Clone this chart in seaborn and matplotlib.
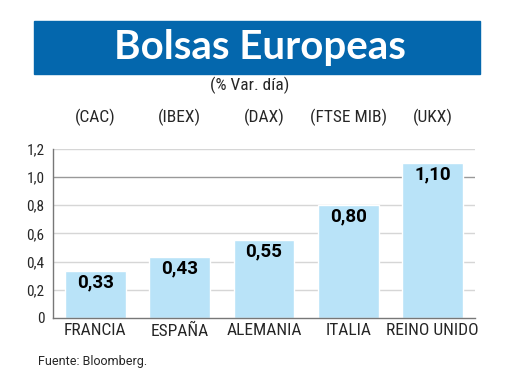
import matplotlib.pyplot as plt
import seaborn as sns
import pandas as pd
from matplotlib.patches import Rectangle

# Datos
paises = ['FRANCIA', 'ESPAÑA', 'ALEMANIA', 'ITALIA', 'REINO UNIDO']
indices = ['(CAC)', '(IBEX)', '(DAX)', '(FTSE MIB)', '(UKX)']
variacion = [0.33, 0.43, 0.55, 0.80, 1.10]
yticks = [0, 0.2, 0.4, 0.6, 0.8, 1.0, 1.2]
ytick_labels = ['0', '0,2', '0,4', '0,6', '0,8', '1,0', '1,2']

df = pd.DataFrame({'pais': paises, 'var': variacion})

sns.set_style('white')
narrow = ['Roboto Condensed', 'Liberation Sans Narrow', 'Roboto', 'DejaVu Sans']
plt.rcParams['font.family'] = narrow

fig = plt.figure(figsize=(5.2, 3.9), dpi=100)
ax = fig.add_axes([0.102, 0.185, 0.811, 0.433])

sns.barplot(data=df, x='pais', y='var', color='#b9e3f8', saturation=1,
            width=0.72, ax=ax, zorder=2)

# Rejilla
for y in yticks[1:]:
    ax.axhline(y, color='#999999' if y == 1.0 else '#d6d6d6', lw=1, zorder=1)

ax.set_xlim(-0.5, 4.5)
ax.set_ylim(0, 1.2)
ax.set_yticks(yticks)
ax.set_yticklabels(ytick_labels, fontsize=11)
ax.tick_params(axis='y', length=4, width=0.8, color='#777777', pad=2)
ax.tick_params(axis='x', length=0, labelsize=12.5, pad=4)
ax.set_xlabel('')
ax.set_ylabel('')
for s in ['top', 'right']:
    ax.spines[s].set_visible(False)
for s in ['left', 'bottom']:
    ax.spines[s].set_color('#777777')
    ax.spines[s].set_linewidth(1)

# Valores sobre las barras
for i, v in enumerate(variacion):
    ax.text(i, v - 0.08, f'{v:.2f}'.replace('.', ','), ha='center', va='center',
            fontsize=13.5, fontweight='bold', family=['Roboto', 'DejaVu Sans'],
            color='black', zorder=3)

# Índices encima del gráfico
trans = ax.get_xaxis_transform()
y_idx = 1 + (149 - 117) / (318 - 149)
for i, t in enumerate(indices):
    ax.text(i, y_idx, t, transform=trans, ha='center', va='center',
            fontsize=12.5, clip_on=False)

# Título
fig.patches.append(Rectangle((34 / 520, 1 - 74 / 390), 446 / 520, 53 / 390,
                             transform=fig.transFigure, color='#0467ad', zorder=0))
fig.text(0.5, 1 - 47 / 390, 'Bolsas Europeas', ha='center', va='center',
         color='white', fontsize=29, fontweight='bold', family=['Lato', 'DejaVu Sans'])
fig.text(0.48, 1 - 85 / 390, '(% Var. día)', ha='center', va='center',
         fontsize=12.5)
fig.text(38 / 520, 1 - 362 / 390, 'Fuente: Bloomberg.', ha='left', va='center',
         fontsize=9, family=['Roboto', 'DejaVu Sans'])

fig.savefig('out.png', dpi=100)
